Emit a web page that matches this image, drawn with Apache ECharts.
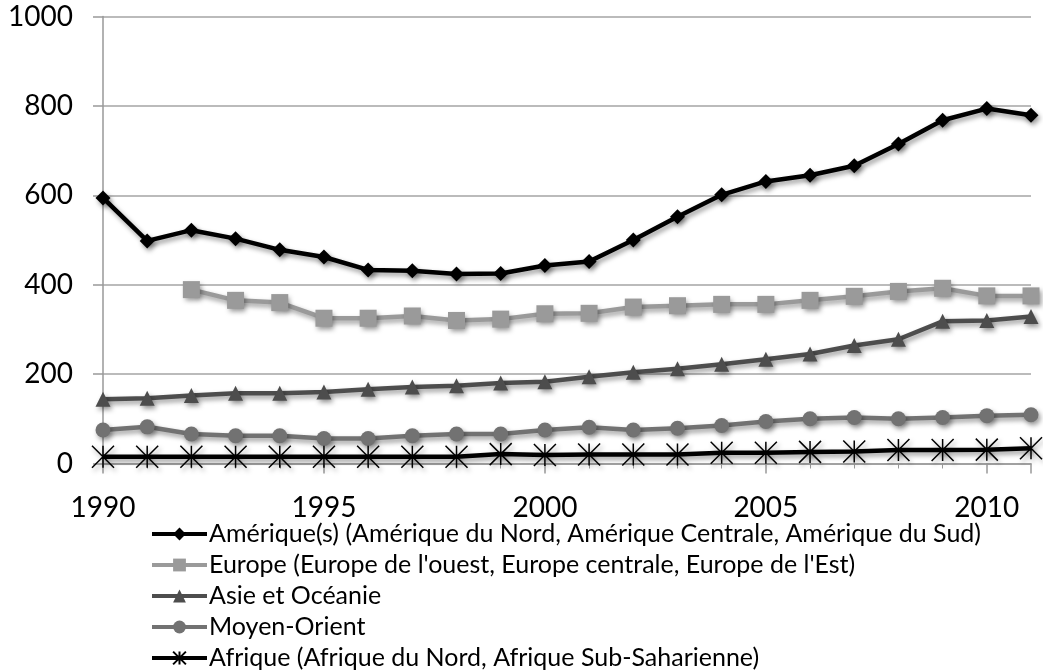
<!DOCTYPE html>
<html>
<head>
<meta charset="utf-8">
<script src="https://cdn.jsdelivr.net/npm/echarts@6/dist/echarts.min.js"></script>
<style>
  html, body { margin: 0; padding: 0; background: #fff; }
  #main { width: 1043px; height: 670px; }
</style>
</head>
<body>
<div id="main"></div>
<script>
// années 1990 - 2011
var years = [1990, 1991, 1992, 1993, 1994, 1995, 1996, 1997, 1998, 1999, 2000,
             2001, 2002, 2003, 2004, 2005, 2006, 2007, 2008, 2009, 2010, 2011];

var amerique = [594, 498, 522, 503, 478, 462, 433, 431, 424, 425, 443,
                452, 500, 552, 601, 631, 645, 666, 715, 768, 794, 779];
var europe   = [null, null, 389, 365, 360, 325, 325, 330, 320, 323, 335,
                336, 350, 353, 356, 356, 365, 374, 385, 392, 375, 375];
var asie     = [144, 146, 152, 157, 157, 160, 166, 171, 174, 180, 183,
                194, 204, 212, 222, 233, 245, 264, 278, 318, 320, 329];
var moyenOrient = [75, 82, 66, 62, 62, 56, 56, 62, 66, 66, 75,
                   81, 75, 79, 85, 94, 100, 103, 100, 103, 107, 109];
var afrique  = [15, 15, 15, 15, 15, 15, 15, 15, 15, 21, 19,
                20, 20, 20, 24, 24, 26, 27, 30, 30, 31, 34];

var names = [
  'Amérique(s) (Amérique du Nord, Amérique Centrale, Amérique du Sud)',
  "Europe (Europe de l'ouest, Europe centrale, Europe de l'Est)",
  'Asie et Océanie',
  'Moyen-Orient',
  'Afrique (Afrique du Nord, Afrique Sub-Saharienne)'
];

function pairs(arr) {
  var res = [];
  for (var i = 0; i < years.length; i++) {
    res.push([years[i], arr[i]]);
  }
  return res;
}

var FONT = 'Lato';
var shadow = { shadowColor: 'rgba(0,0,0,0.4)', shadowBlur: 5, shadowOffsetX: 2, shadowOffsetY: 3 };

function serie(name, data, color, symbol, size, extraItem) {
  var item = Object.assign({ color: color }, shadow, extraItem || {});
  return {
    name: name,
    type: 'line',
    data: pairs(data),
    symbol: symbol,
    symbolSize: size,
    showAllSymbol: true,
    connectNulls: false,
    lineStyle: Object.assign({ color: color, width: 4.5 }, shadow),
    itemStyle: item,
    emphasis: { disabled: true }
  };
}

var asterisk = 'path://M0,0 L20,20 M20,0 L0,20 M10,0 L10,20';

var chart = echarts.init(document.getElementById('main'));

var option = {
  animation: false,
  backgroundColor: '#fff',
  grid: { left: 103, right: 12, top: 16.5, bottom: 206.5, containLabel: false },
  xAxis: {
    type: 'value',
    min: 1990,
    max: 2011,
    interval: 5,
    axisLine: { lineStyle: { color: '#999', width: 1.5 } },
    axisTick: { show: true, length: 10, lineStyle: { color: '#999', width: 1.5 } },
    minorTick: { show: true, splitNumber: 5, length: 5, lineStyle: { color: '#999', width: 1 } },
    splitLine: { show: false },
    axisLabel: { fontFamily: FONT, fontSize: 28, color: '#000', margin: 30,
                 formatter: function (v) { return String(v); } }
  },
  yAxis: {
    type: 'value',
    min: 0,
    max: 1000,
    interval: 200,
    axisLine: { show: true, lineStyle: { color: '#999', width: 1.5 } },
    axisTick: { show: true, length: 10, lineStyle: { color: '#999', width: 1.5 } },
    splitLine: { lineStyle: { color: '#a5a5a5', width: 1.5 } },
    axisLabel: { fontFamily: FONT, fontSize: 28, color: '#000', margin: 30,
                 formatter: function (v) { return String(v); } }
  },
  legend: {
    orient: 'vertical',
    left: 150,
    top: 520,
    height: 160,
    padding: 0,
    itemWidth: 55,
    itemHeight: 16,
    itemGap: 3,
    lineStyle: { width: 4 },
    textStyle: { fontFamily: FONT, fontSize: 25, color: '#000', padding: [0, 0, 0, -3], lineHeight: 28 },
    data: names
  },
  series: [
    serie(names[0], amerique, '#000000', 'diamond', 15),
    serie(names[1], europe, '#9a9a9a', 'rect', 17),
    serie(names[2], asie, '#4d4d4d', 'triangle', 15),
    serie(names[3], moyenOrient, '#727272', 'circle', 15),
    serie(names[4], afrique, '#000000', asterisk, 22,
          { color: 'transparent', borderColor: '#000', borderWidth: 1.5 })
  ]
};

chart.setOption(option);
</script>
</body>
</html>
